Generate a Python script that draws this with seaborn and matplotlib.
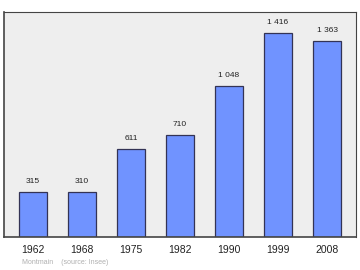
import matplotlib
matplotlib.use("Agg")
import matplotlib.pyplot as plt
import seaborn as sns
import pandas as pd

years = ["1962", "1968", "1975", "1982", "1990", "1999", "2008"]
population = [315, 310, 611, 710, 1048, 1416, 1363]
value_labels = ["315", "310", "611", "710", "1 048", "1 416", "1 363"]

df = pd.DataFrame({"year": years, "pop": population})

sns.set_theme(style="white")
plt.rcParams["font.family"] = ["Liberation Sans", "DejaVu Sans"]

fig = plt.figure(figsize=(3.6, 2.7), dpi=100)
ax = fig.add_axes([4/360, 33/270, 352/360, 225/270])
ax.set_facecolor("#eeeeee")

sns.barplot(data=df, x="year", y="pop", ax=ax, color="#7093ff", width=0.57,
            saturation=1, edgecolor="#333355", linewidth=0.9)

ax.set_xlim(-0.59, 6.59)
ax.set_ylim(0, 1562)
for i, (v, lab) in enumerate(zip(population, value_labels)):
    ax.annotate(lab, (i, v), xytext=(0, 5), textcoords="offset points",
                ha="center", va="bottom", fontsize=6, color="#222222")

ax.set_yticks([])
ax.set_xlabel("")
ax.set_ylabel("")
ax.tick_params(axis="x", length=0, labelsize=7.5, pad=6, colors="#222222")
for s in ax.spines.values():
    s.set_visible(True)
    s.set_color("#444444")
    s.set_linewidth(0.8)
ax.spines["left"].set_linewidth(1.2)
ax.spines["bottom"].set_linewidth(1.2)

fig.text(22/360, 1 - 263/270, "Montmain    (source: Insee)", fontsize=5,
         color="#b0b0b0", va="center", ha="left")

fig.savefig("out.png", dpi=100)
